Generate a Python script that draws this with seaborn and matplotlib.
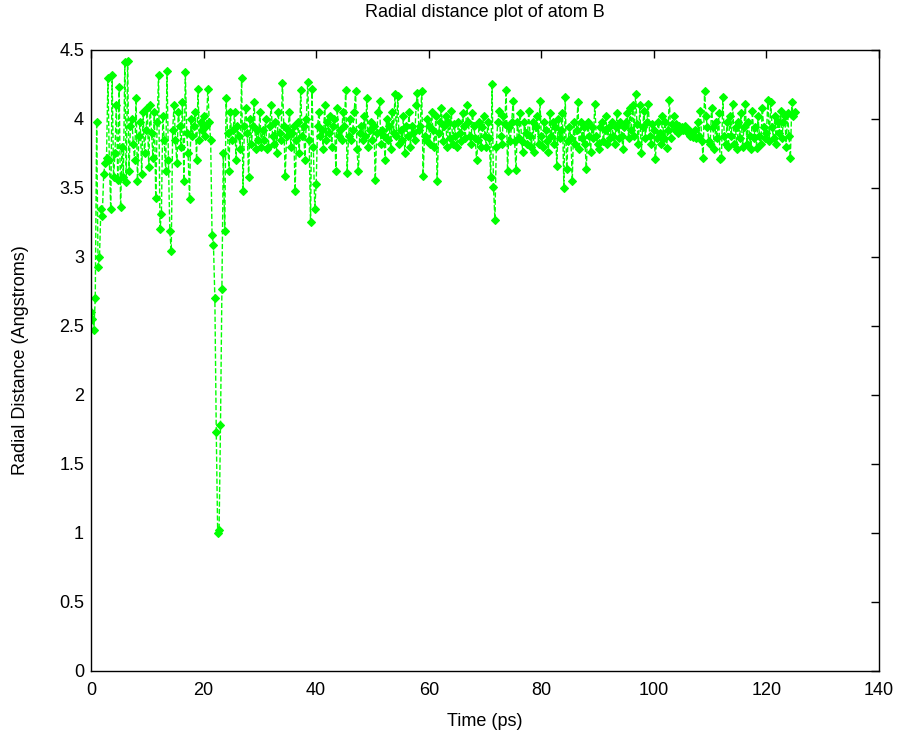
# radial distance of atom B over time

import numpy as np
import matplotlib
matplotlib.use("Agg")
import matplotlib.pyplot as plt
import seaborn as sns

radial = [
    2.60, 2.55, 2.47, 2.70, 3.98, 2.93, 3.00, 3.35, 3.30, 3.60, 3.68, 3.72, 4.30, 3.70, 3.35, 4.32, 3.58, 3.75, 4.10, 3.56,
    4.23, 3.36, 3.80, 3.58, 4.41, 3.54, 4.42, 3.62, 3.95, 4.00, 3.82, 3.70, 4.15, 3.55, 3.88, 3.98, 3.60, 4.05, 3.75, 3.92,
    4.08, 3.65, 4.10, 3.90, 3.72, 4.05, 3.43, 3.98, 4.32, 3.20, 3.31, 4.02, 3.85, 3.62, 4.35, 3.70, 3.19, 3.04, 3.92, 4.10,
    3.85, 3.68, 4.05, 3.95, 3.80, 4.12, 3.55, 4.34, 3.90, 3.75, 3.42, 4.00, 3.88, 3.95, 4.05, 3.70, 4.22, 3.85, 3.98, 3.92,
    4.02, 3.88, 3.95, 4.22, 3.98, 3.85, 3.16, 3.09, 2.70, 1.73, 1.00, 1.02, 1.78, 2.77, 3.75, 3.19, 4.15, 3.90, 3.62, 4.05,
    3.85, 3.92, 4.05, 3.70, 3.95, 3.88, 3.78, 4.30, 3.48, 3.95, 4.08, 3.90, 3.58, 4.00, 3.82, 3.95, 4.12, 3.78, 3.92, 3.85,
    4.05, 3.80, 3.92, 3.85, 4.00, 3.78, 3.80, 3.95, 4.10, 3.88, 3.82, 3.98, 3.75, 4.05, 3.90, 3.85, 4.26, 3.95, 3.59, 3.88,
    3.92, 4.05, 3.80, 3.90, 3.95, 3.48, 3.85, 3.98, 3.75, 4.21, 3.88, 3.95, 3.70, 4.00, 4.27, 3.85, 3.25, 4.22, 3.80, 3.35,
    3.53, 3.95, 4.05, 3.88, 3.92, 3.78, 4.10, 3.85, 3.98, 3.90, 4.02, 3.80, 3.95, 4.00, 3.62, 4.08, 3.88, 3.92, 3.85, 4.05,
    3.95, 4.21, 3.61, 3.88, 4.00, 3.85, 3.92, 4.05, 4.20, 3.78, 3.62, 3.90, 3.95, 3.85, 4.02, 3.88, 4.15, 3.80, 3.92, 3.98,
    3.85, 3.95, 3.56, 3.90, 4.05, 4.13, 3.82, 3.92, 3.88, 3.70, 4.00, 3.85, 3.95, 3.78, 4.05, 3.90, 4.18, 3.88, 4.17, 3.82,
    3.92, 3.85, 4.02, 3.75, 3.95, 3.88, 4.05, 3.80, 3.95, 3.90, 3.85, 4.10, 4.19, 3.92, 3.95, 4.20, 3.59, 3.88, 3.85, 4.00,
    3.95, 3.82, 4.05, 3.92, 3.80, 4.02, 3.55, 3.90, 3.98, 4.08, 3.84, 3.95, 4.02, 3.80, 3.98, 3.86, 4.06, 3.82, 3.96, 3.88,
    3.80, 3.98, 3.90, 3.84, 4.04, 3.95, 3.86, 4.10, 3.98, 3.88, 3.82, 4.04, 3.95, 3.86, 3.70, 3.85, 3.98, 3.80, 3.94, 4.02,
    3.88, 3.80, 3.98, 3.86, 3.58, 4.25, 3.51, 3.27, 3.80, 3.98, 4.06, 3.88, 3.82, 4.02, 3.96, 4.21, 3.62, 3.94, 3.84, 3.98,
    4.13, 3.84, 3.63, 3.98, 3.86, 4.04, 3.84, 3.76, 3.98, 3.90, 3.82, 4.06, 3.88, 3.80, 3.98, 3.76, 3.94, 4.02, 3.82, 4.13,
    3.88, 3.80, 3.98, 3.92, 3.84, 3.76, 4.04, 3.88, 3.98, 3.82, 3.94, 3.66, 4.00, 3.86, 3.92, 4.04, 3.50, 4.16, 3.64, 3.84,
    3.94, 3.86, 3.55, 3.98, 3.82, 3.92, 4.12, 3.78, 3.98, 3.86, 3.94, 3.82, 3.64, 3.98, 3.88, 3.76, 3.94, 3.86, 4.11, 3.88,
    3.82, 3.78, 3.94, 3.98, 3.84, 3.92, 4.02, 3.82, 3.94, 3.86, 3.98, 3.88, 3.82, 3.94, 4.04, 3.86, 3.98, 3.88, 3.78, 3.94,
    3.98, 4.04, 3.86, 4.08, 3.92, 4.10, 3.88, 4.18, 3.96, 3.82, 4.10, 3.75, 3.94, 4.06, 3.86, 3.98, 4.11, 3.88, 3.82, 3.96,
    3.92, 3.71, 3.86, 3.98, 3.90, 3.82, 4.02, 3.86, 3.98, 3.79, 3.92, 4.14, 3.86, 3.96, 4.02, 3.92, 3.96, 3.90, 3.95, 3.92,
    3.94, 3.92, 3.95, 3.93, 3.90, 3.92, 3.88, 3.90, 3.87, 3.92, 3.86, 3.98, 3.88, 4.06, 3.84, 3.72, 4.20, 4.02, 3.94, 3.84,
    3.82, 4.08, 3.94, 3.78, 3.98, 3.86, 4.04, 3.71, 3.72, 4.16, 3.88, 3.82, 3.98, 3.80, 4.02, 3.88, 4.11, 3.82, 3.94, 3.78,
    3.98, 3.86, 4.04, 3.80, 3.94, 4.11, 3.82, 3.98, 3.88, 3.78, 4.06, 3.86, 3.94, 3.79, 4.02, 3.88, 3.82, 4.08, 3.94, 3.86,
    3.90, 4.14, 3.84, 4.12, 3.94, 3.86, 4.02, 3.82, 3.98, 3.90, 4.06, 3.86, 3.98, 4.02, 3.80, 4.04, 3.88, 3.72, 4.12, 4.02,
    4.05,
]
time_ps = np.linspace(0, 125, len(radial))

x_ticks = [0, 20, 40, 60, 80, 100, 120, 140]
y_ticks = [0, 0.5, 1, 1.5, 2, 2.5, 3, 3.5, 4, 4.5]
y_labels = ['0', '0.5', '1', '1.5', '2', '2.5', '3', '3.5', '4', '4.5']

sns.set_style('white')
plt.rcParams['font.family'] = ['Liberation Sans', 'DejaVu Sans']
plt.rcParams['text.color'] = 'black'
plt.rcParams['axes.labelcolor'] = 'black'

fig = plt.figure(figsize=(9.04, 7.38), dpi=100)
ax = fig.add_axes([0.1007, 0.0908, 0.8717, 0.8415])

sns.lineplot(
    x=time_ps,
    y=radial,
    ax=ax,
    color='#00ff00',
    linestyle='--',
    linewidth=1.0,
    marker='D',
    markersize=4.5,
    markeredgewidth=0.8,
    markeredgecolor='#00ff00',
    sort=False,
)

ax.set_xlim(0, 140)
ax.set_ylim(0, 4.5)
ax.set_xticks(x_ticks)
ax.set_xticklabels([str(v) for v in x_ticks])
ax.set_yticks(y_ticks)
ax.set_yticklabels(y_labels)

ax.tick_params(direction='in', length=6, width=1, colors='black',
               labelsize=13, top=True, right=True, pad=5)
ax.tick_params(axis='x', labeltop=False, pad=8)
for s in ax.spines.values():
    s.set_visible(True)
    s.set_color('black')
    s.set_linewidth(1)

ax.set_title("Radial distance plot of atom B", fontsize=13, pad=24, color='black')
ax.set_xlabel("Time (ps)", fontsize=13, labelpad=10, color='black')
ax.set_ylabel("Radial Distance (Angstroms)", fontsize=13, labelpad=22, color='black')

fig.savefig("out.png", dpi=100)
